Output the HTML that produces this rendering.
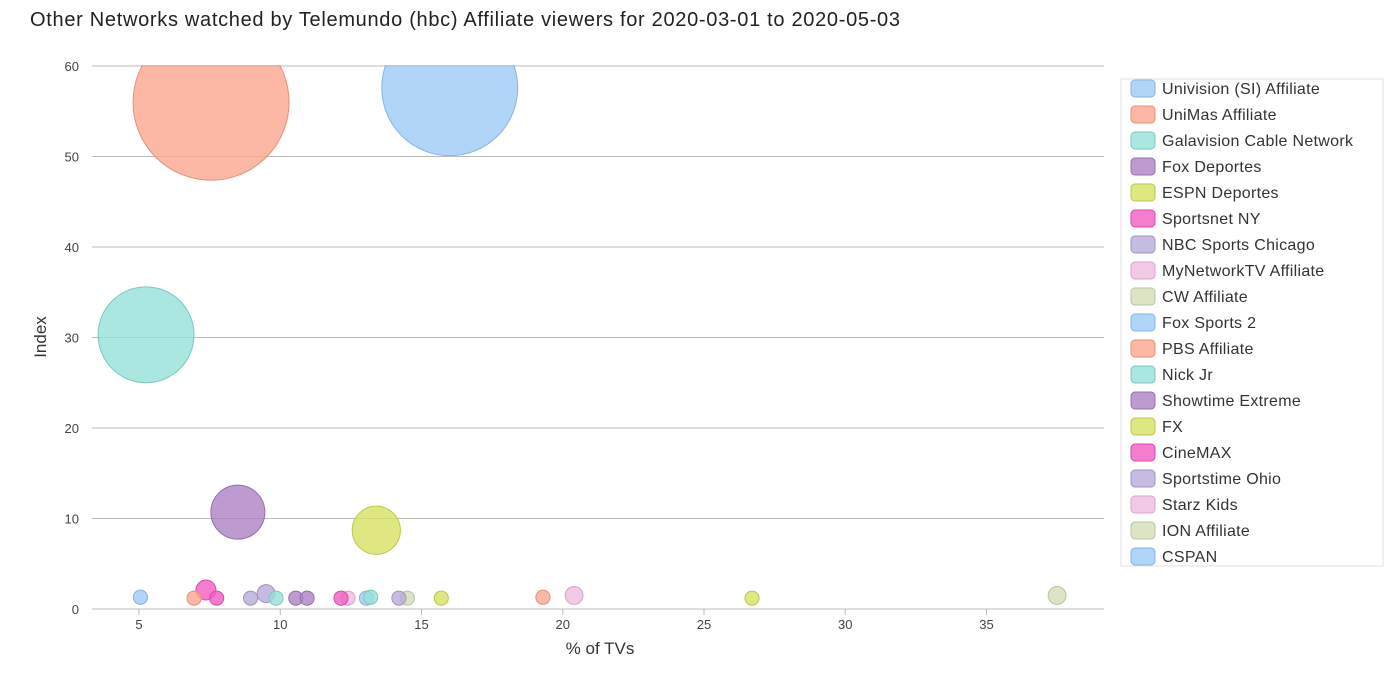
<!DOCTYPE html>
<html><head><meta charset="utf-8"><style>
body{margin:0;background:#fff;font-family:"Liberation Sans",sans-serif;}
svg text{font-family:"Liberation Sans",sans-serif;}
</style></head><body>
<svg id="chart" width="1400" height="692" xmlns="http://www.w3.org/2000/svg">
<text x="30" y="26" font-size="20" fill="#222" textLength="870" lengthAdjust="spacing">Other Networks watched by Telemundo (hbc) Affiliate viewers for 2020-03-01 to 2020-05-03</text>
<defs><clipPath id="plotclip"><rect x="92" y="65" width="1012" height="560"/></clipPath></defs>
<g id="grid"></g><g id="bubbles" clip-path="url(#plotclip)"></g><g id="axes"></g><g id="legend"></g>
</svg>
<script>
const names=["Univision (SI) Affiliate","UniMas Affiliate","Galavision Cable Network","Fox Deportes","ESPN Deportes","Sportsnet NY","NBC Sports Chicago","MyNetworkTV Affiliate","CW Affiliate","Fox Sports 2","PBS Affiliate","Nick Jr","Showtime Extreme","FX","CineMAX","Sportstime Ohio","Starz Kids","ION Affiliate","CSPAN","Net 20","Net 21","Net 22","Net 23","Net 24","Net 25"];
const xVals=[16.0,7.55,5.25,8.5,13.4,7.37,9.5,20.4,37.5,5.05,6.95,9.85,10.55,15.7,7.75,8.95,12.4,14.5,13.05,19.3,26.7,12.15,10.95,14.2,13.2];
const yVals=[57.6,56.0,30.3,10.7,8.7,2.1,1.7,1.5,1.5,1.3,1.2,1.2,1.2,1.2,1.2,1.2,1.2,1.2,1.2,1.3,1.2,1.2,1.2,1.2,1.3];
const sizes=[4620,6080,2300,730,580,100,80,80,80,50,50,50,50,50,50,50,50,50,50,50,50,50,50,50,50];
const colorIdx=[0,1,2,3,4,5,6,7,8,0,1,2,3,4,5,6,7,8,0,1,4,5,3,6,2];
const xTicks=[5,10,15,20,25,30,35];
const yTicks=[0,10,20,30,40,50,60];
const palette=["#9ecbf8","#fda68f","#93e1d8","#ac82c4","#d6e160","#f25cc0","#b8aada","#f0bde0","#d2deb6"];
const strokes=["#86b4e0","#e39079","#7cc8be","#9570ad","#bcc64e","#d84aa8","#a093c2","#d6a5c6","#b9c59d"];
const legendCount=19;
const NS="http://www.w3.org/2000/svg";
const X=v=>139+(v-5)*28.25;
const Y=v=>609-v*9.05;
const R=s=>Math.sqrt(s);
function mk(tag,attrs,parent){const e=document.createElementNS(NS,tag);for(const k in attrs)e.setAttribute(k,attrs[k]);parent.appendChild(e);return e;}
const grid=document.getElementById('grid'),axes=document.getElementById('axes'),bub=document.getElementById('bubbles'),leg=document.getElementById('legend');
yTicks.forEach(t=>{
 const l=mk('line',{x1:92,x2:1104,y1:Y(t),y2:Y(t),stroke:'#bbb','stroke-width':1},grid);
 
 
 const tx=mk('text',{x:79,y:Y(t)+5,'text-anchor':'end','font-size':13,fill:'#444'},axes);
 tx.textContent=t;
 
 
});
xTicks.forEach(t=>{
 const l=mk('line',{x1:X(t),x2:X(t),y1:609,y2:615,stroke:'#bbb'},axes);
 
 
 const tx=mk('text',{x:X(t),y:629,'text-anchor':'middle','font-size':13,fill:'#444'},axes);
 tx.textContent=t;
 
 
});
const xt=mk('text',{x:600,y:654,'text-anchor':'middle','font-size':17,fill:'#333'},axes);
xt.textContent='% of TVs';


const yt=mk('text',{x:46,y:337,'text-anchor':'middle','font-size':17,fill:'#333',transform:'rotate(-90 46 337)'},axes);
yt.textContent='Index';


names.forEach((n,i)=>{
 const k=colorIdx[i];
 const ci=mk('circle',{cx:X(xVals[i]),cy:Y(yVals[i]),r:R(sizes[i]),fill:palette[k],'fill-opacity':0.8,stroke:strokes[k],'stroke-width':1},bub);
 
 
});
const box=mk('rect',{x:1121,y:79,width:262,height:487,fill:'#fff',stroke:'#e2e2e2'},leg);


for(let i=0;i<legendCount;i++){
 const k=i%palette.length;
 const g=mk('g',{},leg);
 
 
 mk('rect',{x:1131,y:80+i*26,width:24,height:17,rx:4,fill:palette[k],'fill-opacity':0.8,stroke:strokes[k]},g);
 const t=mk('text',{x:1162,y:94+i*26,'font-size':16,fill:'#333','letter-spacing':'0.3'},g);
 t.textContent=names[i];
}
</script>
</body></html>
